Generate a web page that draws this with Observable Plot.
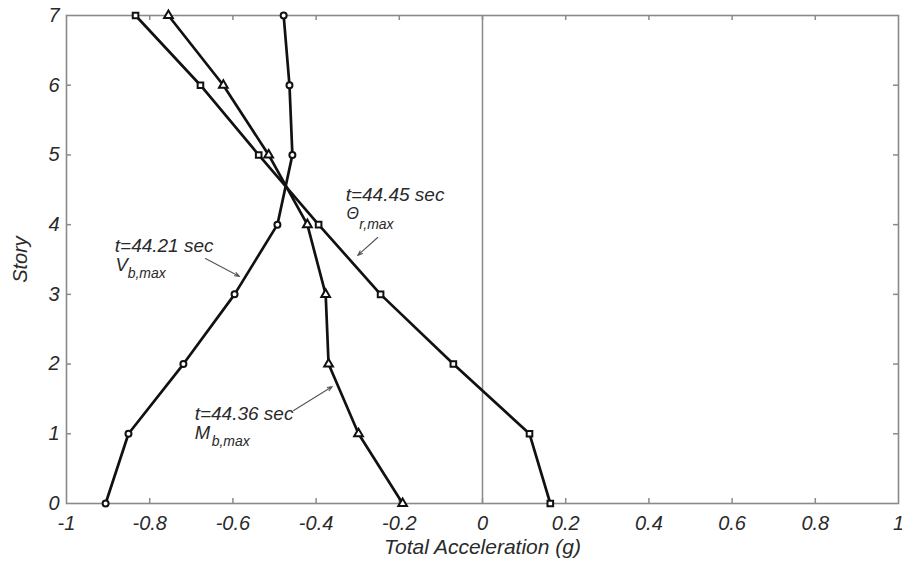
<!DOCTYPE html>
<html>
<head>
<meta charset="utf-8">
<script src="https://cdn.jsdelivr.net/npm/d3@7"></script>
<script src="https://cdn.jsdelivr.net/npm/@observablehq/plot@0.6"></script>
<style>
  html, body { margin: 0; padding: 0; background: #fff; }
</style>
</head>
<body>
<div id="chart"></div>
<script>
// Story levels
const stories = [0, 1, 2, 3, 4, 5, 6, 7];
// Total acceleration (g) at each story for the three time instants
const thetaRMax = [0.163, 0.113, -0.070, -0.245, -0.394, -0.538, -0.678, -0.834]; // t=44.45 sec, squares
const mbMax     = [-0.192, -0.298, -0.370, -0.377, -0.421, -0.514, -0.623, -0.755]; // t=44.36 sec, triangles
const vbMax     = [-0.906, -0.851, -0.719, -0.596, -0.493, -0.457, -0.464, -0.478]; // t=44.21 sec, circles

// Tick values
const xTicks = [-1, -0.8, -0.6, -0.4, -0.2, 0, 0.2, 0.4, 0.6, 0.8, 1];
const yTicks = [0, 1, 2, 3, 4, 5, 6, 7];

// Annotations (positions in data units)
const annoTimes = ["t=44.45 sec", "t=44.21 sec", "t=44.36 sec"];
const annoTimeX = [-0.329, -0.884, -0.692];
const annoTimeY = [4.430, 3.701, 1.291];
const annoMain  = ["Θ", "V", "M"];
const annoMainX = [-0.327, -0.882, -0.692];
const annoMainY = [4.150, 3.414, 1.004];
const annoSub   = ["r,max", "b,max", "b,max"];
const annoSubX  = [-0.296, -0.853, -0.651];
const annoSubY  = [4.000, 3.300, 0.895];
const arrowX1 = [-0.252, -0.666, -0.454];
const arrowY1 = [3.816, 3.515, 1.334];
const arrowX2 = [-0.300, -0.584, -0.361];
const arrowY2 = [3.558, 3.256, 1.678];

const series = [
  {name: "theta", values: thetaRMax, symbol: "square", r: 4},
  {name: "mb", values: mbMax, symbol: "triangle", r: 4.2},
  {name: "vb", values: vbMax, symbol: "circle", r: 3.6}
];
const rows = series.flatMap(s => s.values.map((v, i) => ({series: s.name, x: v, y: stories[i], symbol: s.symbol, r: s.r})));
const annos = annoTimes.map((t, i) => ({
  t, tx: annoTimeX[i], ty: annoTimeY[i],
  m: annoMain[i], mx: annoMainX[i], my: annoMainY[i],
  s: annoSub[i], sx: annoSubX[i], sy: annoSubY[i],
  x1: arrowX1[i], y1: arrowY1[i], x2: arrowX2[i], y2: arrowY2[i]
}));

const xTickLen = 5 / 416;
const yTickLen = 5 / 69.7;
const fmt = d => String(+d.toFixed(1));
const textColor = "#2a2a2a";
const frameColor = "#8a8a8a";

const chart = Plot.plot({
  width: 902,
  height: 569,
  marginLeft: 66,
  marginRight: 4,
  marginTop: 15,
  marginBottom: 66,
  style: {fontFamily: "'Liberation Sans', Arial, Helvetica, sans-serif", fontStyle: "italic", fontSize: "20px", background: "#fff", color: textColor, overflow: "visible"},
  x: {domain: [-1, 1]},
  y: {domain: [0, 7]},
  symbol: {domain: ["square", "triangle", "circle"], range: ["square", "triangle", "circle"]},
  marks: [
    Plot.axisX(xTicks, {tickSize: 0, tickPadding: 12, tickFormat: fmt, label: null, fontSize: 20, fill: textColor}),
    Plot.axisY(yTicks, {tickSize: 0, tickPadding: 7, tickFormat: fmt, label: null, fontSize: 20, fill: textColor}),
    // inward ticks
    Plot.ruleX(xTicks.slice(1, -1), {x: d => d, y1: 0, y2: yTickLen, stroke: frameColor, strokeWidth: 1.5}),
    Plot.ruleX(xTicks.slice(1, -1), {x: d => d, y1: 7 - yTickLen, y2: 7, stroke: frameColor, strokeWidth: 1.5}),
    Plot.ruleY(yTicks.slice(1, -1), {y: d => d, x1: -1, x2: -1 + xTickLen, stroke: frameColor, strokeWidth: 1.5}),
    Plot.ruleY(yTicks.slice(1, -1), {y: d => d, x1: 1 - xTickLen, x2: 1, stroke: frameColor, strokeWidth: 1.5}),
    Plot.ruleX([0], {stroke: frameColor, strokeWidth: 1.5}),
    Plot.frame({stroke: frameColor, strokeWidth: 1.6}),
    Plot.line(rows, {x: "x", y: "y", z: "series", stroke: "#111", strokeWidth: 2.7, curve: "linear"}),
    Plot.dot(rows, {x: "x", y: "y", symbol: "symbol", r: "r", fill: "#fff", stroke: "#111", strokeWidth: 2}),
    // annotations
    Plot.arrow(annos, {x1: "x1", y1: "y1", x2: "x2", y2: "y2", stroke: "#555", strokeWidth: 1.1, headLength: 7, headAngle: 40}),
    Plot.text(annos, {x: "tx", y: "ty", text: "t", textAnchor: "start", fontSize: 19, fill: textColor, fontWeight: 500}),
    Plot.text(annos, {x: "mx", y: "my", text: "m", textAnchor: "start", fontSize: d => d.m === "Θ" ? 16 : 18.5, fill: textColor}),
    Plot.text(annos, {x: "sx", y: "sy", text: "s", textAnchor: "start", fontSize: 14, fill: textColor}),
    // axis titles
    Plot.text(["Story"], {x: -1, y: 3.5, rotate: -90, dx: -46, fontSize: 20, fill: textColor}),
    Plot.text(["Total Acceleration (g)"], {frameAnchor: "bottom", dy: 50, fontSize: 21, fill: textColor})
  ]
});
document.getElementById("chart").appendChild(chart);
</script>
</body>
</html>
